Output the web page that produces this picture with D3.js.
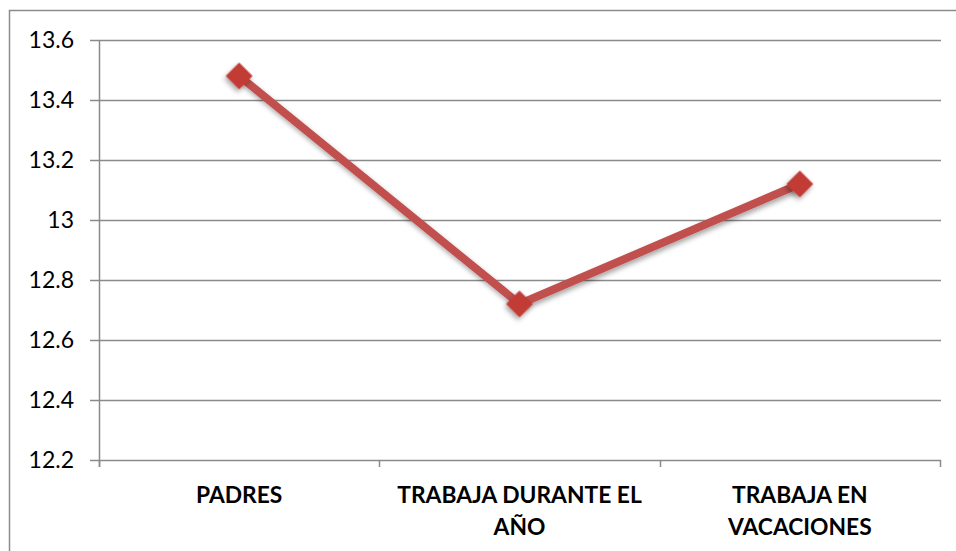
<!DOCTYPE html>
<html>
<head>
<meta charset="utf-8">
<script src="https://cdn.jsdelivr.net/npm/d3@7"></script>
<style>
  body { margin: 0; background: #fff; }
  svg { display: block; }
</style>
</head>
<body>
<div id="chart"></div>
<script>
var categories = ["PADRES", "TRABAJA DURANTE EL AÑO", "TRABAJA EN VACACIONES"];
var labelLines = [["PADRES"], ["TRABAJA DURANTE EL", "AÑO"], ["TRABAJA EN", "VACACIONES"]];
var values = [13.48, 12.72, 13.12];
var yTicks = [12.2, 12.4, 12.6, 12.8, 13, 13.2, 13.4, 13.6];

var width = 956, height = 551;
var plotLeft = 99, plotRight = 940, plotTop = 40, plotBottom = 460;

var svg = d3.select("#chart").append("svg")
            .attr("width", width)
            .attr("height", height);

var defs = svg.append("defs");
var shadow = defs.append("filter").attr("id", "shadow")
                 .attr("x", "-50%").attr("y", "-50%")
                 .attr("width", "200%").attr("height", "200%");
shadow.append("feDropShadow")
      .attr("dx", 1).attr("dy", 3)
      .attr("stdDeviation", 2.5)
      .attr("flood-color", "#000")
      .attr("flood-opacity", 0.35);

// outer frame
svg.append("rect")
   .attr("x", 9.5).attr("y", 10.5)
   .attr("width", 960).attr("height", 560)
   .style("fill", "none")
   .style("stroke", "#8c8c8c")
   .style("stroke-width", 1.5);

var x = d3.scaleBand().domain(categories).range([plotLeft, plotRight]);
var y = d3.scaleLinear().domain([12.2, 13.6]).range([plotBottom, plotTop]);

// gridlines
svg.append("g").selectAll("line")
   .data(yTicks)
   .enter()
   .append("line")
   .attr("x1", plotLeft - 9).attr("x2", plotRight + 1)
   .attr("y1", function (d) { return Math.round(y(d)) + 0.5; })
   .attr("y2", function (d) { return Math.round(y(d)) + 0.5; })
   .style("stroke", "#8a8a8a")
   .style("stroke-width", 1.5);

// y axis line
svg.append("line")
   .attr("x1", plotLeft + 0.5).attr("x2", plotLeft + 0.5)
   .attr("y1", plotTop).attr("y2", plotBottom + 7)
   .style("stroke", "#8a8a8a")
   .style("stroke-width", 1.5);

// x ticks
var xTickPos = categories.map(function (c) { return x(c); }).concat([plotRight]);
svg.append("g").selectAll("line")
   .data(xTickPos)
   .enter()
   .append("line")
   .attr("x1", function (d) { return Math.round(d) + 0.5; })
   .attr("x2", function (d) { return Math.round(d) + 0.5; })
   .attr("y1", plotBottom).attr("y2", plotBottom + 7)
   .style("stroke", "#8a8a8a")
   .style("stroke-width", 1.5);

// y labels
svg.append("g").selectAll("text")
   .data(yTicks)
   .enter()
   .append("text")
   .attr("x", 74)
   .attr("y", function (d) { return y(d); })
   .attr("dy", "0.35em")
   .attr("text-anchor", "end")
   .style("font-family", "Lato, 'Liberation Sans', sans-serif")
   .style("font-size", "23px")
   .style("fill", "#000")
   .text(function (d) { return d3.format("")(d); });

// x labels
var xLabels = svg.append("g").selectAll("text")
   .data(categories)
   .enter()
   .append("text")
   .attr("x", function (d) { return x(d) + x.bandwidth() / 2; })
   .attr("y", 503)
   .attr("text-anchor", "middle")
   .style("font-family", "Lato, 'Liberation Sans', sans-serif")
   .style("font-weight", "bold")
   .style("font-size", "22.8px")
   .style("fill", "#000");

xLabels.selectAll("tspan")
   .data(function (d, i) { return labelLines[i]; })
   .enter()
   .append("tspan")
   .attr("x", function () { var p = d3.select(this.parentNode).datum(); return x(p) + x.bandwidth() / 2; })
   .attr("dy", function (d, i) { return i === 0 ? 0 : 32; })
   .text(function (d) { return d; });

// line
var line = d3.line()
   .x(function (d, i) { return x(categories[i]) + x.bandwidth() / 2; })
   .y(function (d) { return y(d); });

svg.append("path")
   .datum(values)
   .attr("d", line)
   .attr("filter", "url(#shadow)")
   .style("fill", "none")
   .style("stroke", "#c0504d")
   .style("stroke-width", 8)
   .style("stroke-linejoin", "round");

// markers
svg.append("g").selectAll("path")
   .data(values)
   .enter()
   .append("path")
   .attr("transform", function (d, i) {
     return "translate(" + (x(categories[i]) + x.bandwidth() / 2) + "," + y(d) + ") rotate(45)";
   })
   .attr("d", "M-9.5,-9.5H9.5V9.5H-9.5Z")
   .attr("filter", "url(#shadow)")
   .style("fill", "#c33a36");
</script>
</body>
</html>
